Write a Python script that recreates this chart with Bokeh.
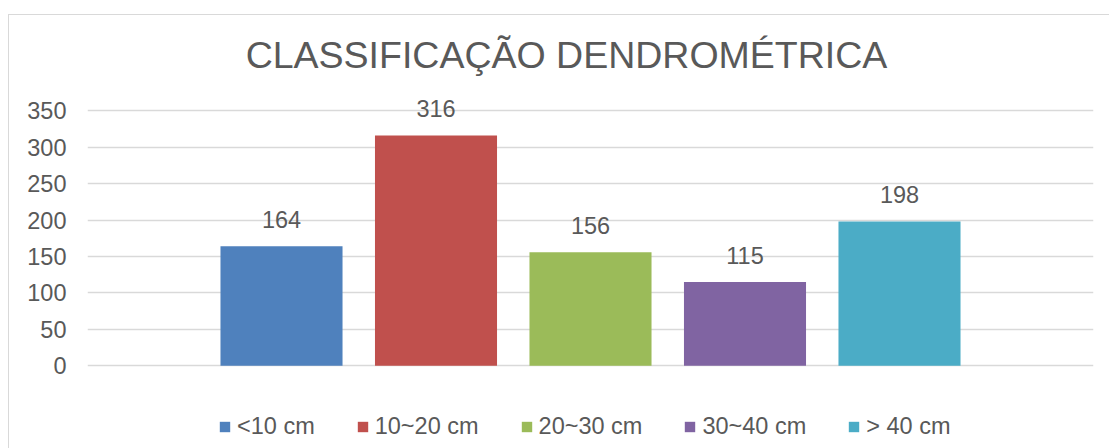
from bokeh.plotting import figure
from bokeh.models import Range1d, FixedTicker, Legend, LegendItem, Label, ColumnDataSource
from bokeh.core.properties import value
from bokeh.embed import file_html
from bokeh.resources import INLINE

series = ["<10 cm", "10~20 cm", "20~30 cm", "30~40 cm", "> 40 cm"]
counts = [164, 316, 156, 115, 198]
colors = ["#4f81bd", "#c0504d", "#9bbb59", "#8064a2", "#4bacc6"]
y_ticks = [0, 50, 100, 150, 200, 250, 300, 350]
title_text = "CLASSIFICAÇÃO DENDROMÉTRICA"

FONT = "Liberation Sans"
GRAY = "#595959"

n = len(series)
xs = [i - (n - 1) / 2 for i in range(n)]
src = ColumnDataSource(dict(x=xs, top=counts, color=colors, name=series,
                            lab=[str(v) for v in counts]))

p = figure(width=1109, height=448, output_backend="svg", toolbar_location=None,
           x_range=Range1d(-3.2557, 3.2557), y_range=Range1d(-113.5, 501.4),
           x_axis_type=None,
           min_border_left=87, min_border_right=16, min_border_top=0, min_border_bottom=0)
p.outline_line_color = None
p.background_fill_color = None
p.border_fill_color = None
p.styles = {"background": "linear-gradient(#d9d9d9,#d9d9d9) 8px 14px / 100% 1px no-repeat, "
                          "linear-gradient(#d9d9d9,#d9d9d9) 8px 14px / 1px 100% no-repeat, white"}

r = p.vbar(x="x", top="top", width=0.79, bottom=0, fill_color="color", line_color=None, source=src)

p.text(x="x", y="top", text="lab", source=src, text_align="center", text_baseline="alphabetic",
       y_offset=-27, text_font=value(FONT), text_font_size="23.5px", text_color=GRAY)

p.yaxis.ticker = FixedTicker(ticks=y_ticks)
p.ygrid.ticker = FixedTicker(ticks=y_ticks)
p.ygrid.grid_line_color = "#d9d9d9"
p.ygrid.grid_line_width = 1.5
p.xgrid.visible = False
p.yaxis.axis_line_color = None
p.yaxis.major_tick_line_color = None
p.yaxis.minor_tick_line_color = None
p.yaxis.major_tick_out = 0
p.yaxis.major_label_standoff = 21
p.yaxis.major_label_text_font = FONT
p.yaxis.major_label_text_font_size = "23.5px"
p.yaxis.major_label_text_color = GRAY

items = [LegendItem(label=series[i], renderers=[r], index=i) for i in range(n)]
legend = Legend(items=items, orientation="horizontal", location=(131, 8),
                glyph_width=13, glyph_height=13, label_standoff=6, spacing=41,
                padding=0, margin=0, border_line_color=None, background_fill_alpha=0,
                label_text_font=FONT, label_text_font_size="23.5px", label_text_color=GRAY)
p.add_layout(legend)

title = Label(x=0, y=426, x_offset=-24, text=title_text,
              text_align="center", text_baseline="alphabetic", text_font=FONT,
              text_font_size="37.5px", text_color=GRAY)
p.add_layout(title)

open("out.html", "w").write(file_html(p, INLINE))
